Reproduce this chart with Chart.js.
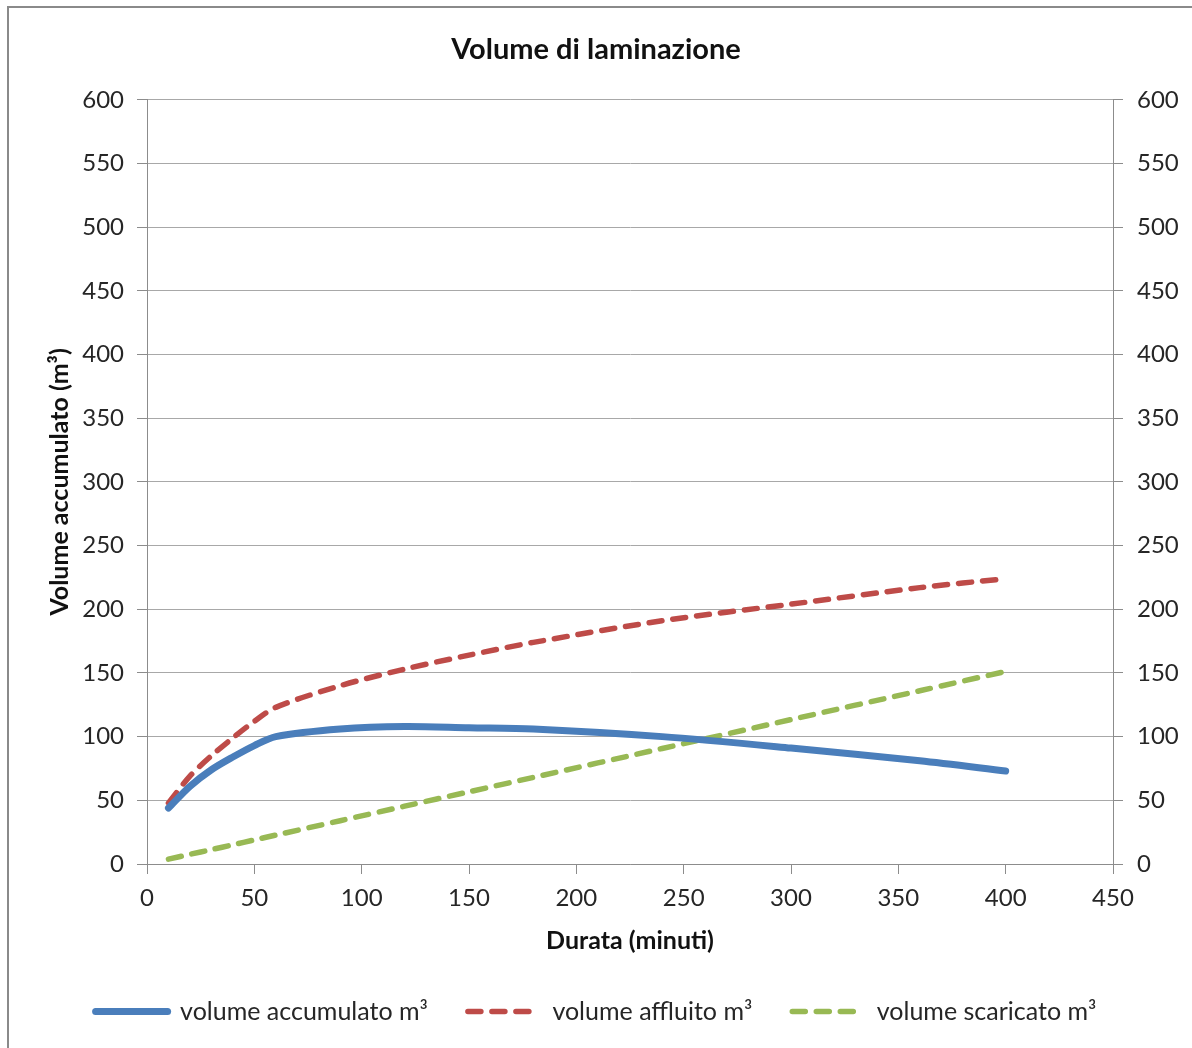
<!DOCTYPE html>
<html>
<head>
<meta charset="utf-8">
<script src="https://cdn.jsdelivr.net/npm/chart.js@4.4.1/dist/chart.umd.min.js"></script>
<style>
  html, body { margin: 0; padding: 0; background: #fff; overflow: hidden; }
  #wrap { position: relative; width: 1192px; height: 1048px; }
  #frame {
    position: absolute; left: 7px; top: 6px; width: 1400px; height: 1400px;
    border: 2px solid #8a8a8a; pointer-events: none;
  }
</style>
</head>
<body>
<div id="wrap">
  <canvas id="chart" width="1192" height="1048"></canvas>
  <div id="frame"></div>
</div>
<script>
// durations (minutes)
const durations = [10, 20, 30, 40, 50, 60, 90, 120, 150, 180, 240, 300, 360, 400];
// volumes (m³)
const volAccumulato = [44, 61, 74, 84, 93, 100, 106, 108, 107, 106, 100, 91, 81, 73];
const volAffluito = [48, 69, 85, 99, 112, 123, 140, 153, 164, 174, 191, 204, 217, 224];
const volScaricato = [3.8, 7.6, 11.3, 15.1, 18.9, 22.7, 34, 45.4, 56.7, 68, 90.7, 113.4, 136, 151.2];

const seriesNames = ['volume accumulato m³', 'volume affluito m³', 'volume scaricato m³'];
const xTicksMax = 450;
const yTicksMax = 600;

const pts = (ys) => durations.map((d, i) => ({ x: d, y: ys[i] }));

const FONT = 'Lato, "Open Sans", sans-serif';
const TXT = '#262626';
const GRID = '#a8a8a8';
const AXIS = '#8c8c8c';

Chart.defaults.font.family = FONT;
Chart.defaults.color = TXT;

const defaultLabels = Chart.defaults.plugins.legend.labels.generateLabels;

new Chart(document.getElementById('chart'), {
  type: 'line',
  data: {
    datasets: [
      {
        label: seriesNames[0],
        data: pts(volAccumulato),
        borderColor: '#4a7ebb',
        backgroundColor: '#4a7ebb',
        borderWidth: 7,
        borderCapStyle: 'round',
        tension: 0.3,
        pointRadius: 0
      },
      {
        label: seriesNames[1],
        data: pts(volAffluito),
        borderColor: '#be4b48',
        backgroundColor: '#be4b48',
        borderWidth: 5.5,
        borderDash: [13, 11],
        borderCapStyle: 'round',
        tension: 0.3,
        pointRadius: 0
      },
      {
        label: seriesNames[2],
        data: pts(volScaricato),
        borderColor: '#98b954',
        backgroundColor: '#98b954',
        borderWidth: 5.5,
        borderDash: [13, 11],
        borderCapStyle: 'round',
        tension: 0.3,
        pointRadius: 0
      }
    ]
  },
  options: {
    responsive: false,
    animation: false,
    layout: { padding: { left: 0, right: 0, top: 0, bottom: 14 } },
    plugins: {
      title: {
        display: true,
        text: 'Volume di laminazione',
        color: '#111',
        font: { size: 29, weight: 'bold' },
        padding: { top: 32, bottom: 33 }
      },
      legend: {
        position: 'bottom',
        labels: {
          usePointStyle: true,
          pointStyle: 'line',
          pointStyleWidth: 72,
          padding: 40,
          color: TXT,
          font: { size: 25 },
          generateLabels: (chart) => defaultLabels(chart).map((item) => {
            const ds = chart.data.datasets[item.datasetIndex];
            item.lineDash = ds.borderDash || [];
            item.lineWidth = ds.borderWidth;
            item.strokeStyle = ds.borderColor;
            item.lineCap = 'round';
            return item;
          })
        }
      },
      tooltip: { enabled: false }
    },
    scales: {
      x: {
        type: 'linear',
        min: 0,
        max: xTicksMax,
        ticks: { stepSize: 50, padding: 10, font: { size: 24 }, color: TXT },
        grid: { drawOnChartArea: false, drawTicks: true, tickLength: 10, color: AXIS },
        border: { color: AXIS, width: 1 },
        title: {
          display: true,
          text: 'Durata (minuti)',
          color: '#111',
          font: { size: 25, weight: 'bold' },
          padding: { top: 0, bottom: 3 }
        },
        afterFit: (s) => { s.height = 95; }
      },
      y: {
        position: 'left',
        min: 0,
        max: yTicksMax,
        ticks: { stepSize: 50, padding: 13, font: { size: 24 }, color: TXT },
        grid: { color: GRID, tickColor: AXIS, tickLength: 10 },
        border: { color: AXIS, width: 1 },
        title: {
          display: true,
          text: 'Volume accumulato (m³)',
          color: '#111',
          font: { size: 25, weight: 'bold' },
          padding: { top: 45, bottom: 0 }
        },
        afterFit: (s) => { s.width = 147; }
      },
      y2: {
        position: 'right',
        min: 0,
        max: yTicksMax,
        ticks: { stepSize: 50, padding: 14, font: { size: 24 }, color: TXT },
        grid: { drawOnChartArea: false, tickColor: AXIS, tickLength: 10 },
        border: { color: AXIS, width: 1 },
        afterFit: (s) => { s.width = 79; }
      }
    }
  }
});
</script>
</body>
</html>
